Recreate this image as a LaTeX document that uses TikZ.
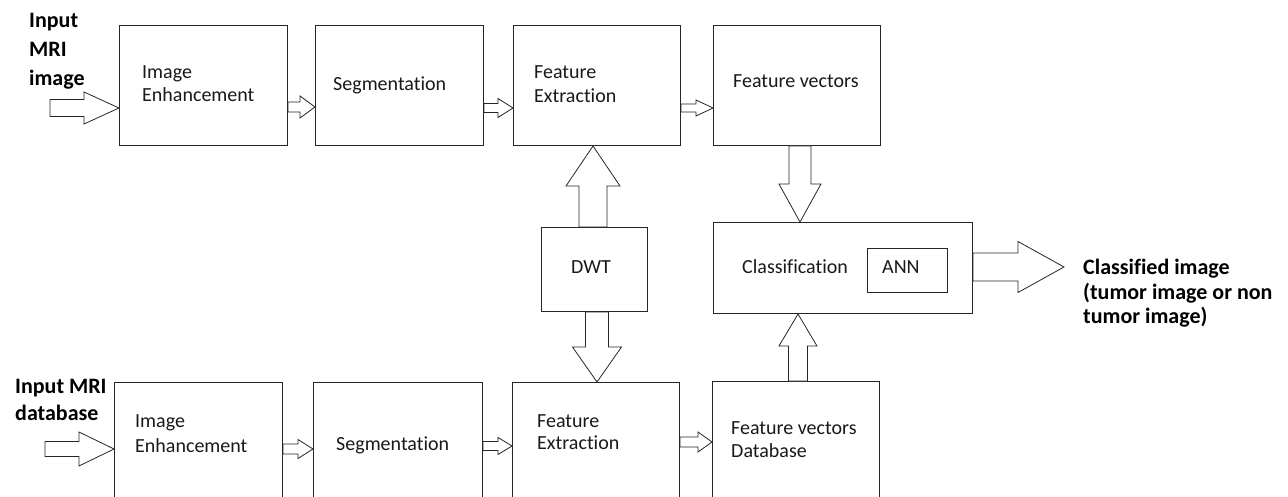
\documentclass[tikz,border=0pt]{standalone}
\usepackage{fontspec}
\setmainfont{Carlito}[Ligatures=NoCommon]
\usetikzlibrary{calc}
\tikzset{
  box/.style={draw=black!85, line width=1pt, anchor=north west, inner sep=0pt, fill=white},
  arrowbox/.style={draw=black!85, line width=0.8pt, fill=white, line join=miter},
  txt/.style={anchor=base west, inner sep=0pt, align=left, font=\fontsize{20}{23}\selectfont, text=black!90},
  lbl/.style={anchor=base west, inner sep=0pt, align=left, text=black},
}
% #1 start, #2 tip (named coordinates), #3 shaft half width, #4 head half width, #5 head length
\newcommand\blockright[5]{%
  \draw[arrowbox] ($(#1|-#2)+(0,-#3)$) -- ($(#2)+(-#5,-#3)$) -- ($(#2)+(-#5,-#4)$) -- (#2)
   -- ($(#2)+(-#5,#4)$) -- ($(#2)+(-#5,#3)$) -- ($(#1|-#2)+(0,#3)$) -- cycle;}
\newcommand\blockdown[5]{%
  \draw[arrowbox] ($(#2|-#1)+(-#3,0)$) -- ($(#2)+(-#3,-#5)$) -- ($(#2)+(-#4,-#5)$) -- (#2)
   -- ($(#2)+(#4,-#5)$) -- ($(#2)+(#3,-#5)$) -- ($(#2|-#1)+(#3,0)$) -- cycle;}
\newcommand\blockup[5]{%
  \draw[arrowbox] ($(#2|-#1)+(-#3,0)$) -- ($(#2)+(-#3,#5)$) -- ($(#2)+(-#4,#5)$) -- (#2)
   -- ($(#2)+(#4,#5)$) -- ($(#2)+(#3,#5)$) -- ($(#2|-#1)+(#3,0)$) -- cycle;}
\begin{document}
\begin{tikzpicture}[x=1pt,y=-1pt]
\useasboundingbox[fill=white] (0,0) rectangle (1288,497);
\clip (0,0) rectangle (1288,497);
% boxes, top row
\node[box, minimum width=168pt, minimum height=120pt] (ie1) at (119,25) {};
\node[box, minimum width=168pt, minimum height=120pt] (seg1) at (315,25) {};
\node[box, minimum width=167pt, minimum height=120pt] (fe1) at (513,25) {};
\node[box, minimum width=167pt, minimum height=120pt] (fv1) at (713,25) {};
% middle
\node[box, minimum width=106pt, minimum height=84pt] (dwt) at (541,227) {};
\node[box, minimum width=259pt, minimum height=91pt] (cls) at (713,222) {};
\node[box, minimum width=80pt, minimum height=44pt] (ann) at (867,248) {};
% bottom row
\node[box, minimum width=168pt, minimum height=140pt] (ie2) at (114,382) {};
\node[box, minimum width=169pt, minimum height=140pt] (seg2) at (313,382) {};
\node[box, minimum width=167pt, minimum height=140pt] (fe2) at (512,382) {};
\node[box, minimum width=167pt, minimum height=140pt] (fv2) at (712,381) {};
% texts in boxes (anchor at the baseline of the last line)
\node[txt] (tie1) at (142,102) {Image\\Enhancement};
\node[txt] (tseg1) at (333,91) {Segmentation};
\node[txt, font=\fontsize{20}{24}\selectfont] (tfe1) at (534,103) {Feature\\Extraction};
\node[txt] (tfv1) at (733,88) {Feature vectors};
\node[txt] (tdwt) at (571,273) {DWT};
\node[txt] (tcls) at (742,273) {Classification};
\node[txt] (tann) at (882,273) {ANN};
\node[txt, font=\fontsize{20}{25}\selectfont] (tie2) at (135,452) {Image\\Enhancement};
\node[txt] (tseg2) at (336,450) {Segmentation};
\node[txt, font=\fontsize{20}{22}\selectfont] (tfe2) at (537,449) {Feature\\Extraction};
\node[txt] (tfv2) at (731,457) {Feature vectors\\Database};
% outside labels
\node[lbl, font=\bfseries\fontsize{22}{29}\selectfont] (lin1) at (29,86) {Input\\MRI\\image};
\node[lbl, font=\bfseries\fontsize{22}{27}\selectfont] (lin2) at (15,420) {Input MRI\\database};
\node[lbl, font=\bfseries\fontsize{22}{24}\selectfont] (lout) at (1083,323) {Classified image\\(tumor image or non\\tumor image)};
% coordinates for block arrows
\coordinate (in1s) at (50,108);
\coordinate (in1t) at (ie1.west |- 0,108);
\coordinate (a1s) at (ie1.east |- 0,107);
\coordinate (a1t) at (seg1.west |- 0,107);
\coordinate (a2s) at (seg1.east |- 0,108);
\coordinate (a2t) at (fe1.west |- 0,108);
\coordinate (a3s) at (fe1.east |- 0,108);
\coordinate (a3t) at (fv1.west |- 0,108);
\coordinate (in2s) at (45,449);
\coordinate (in2t) at (ie2.west |- 0,449);
\coordinate (b1s) at (ie2.east |- 0,449);
\coordinate (b1t) at (seg2.west |- 0,449);
\coordinate (b2s) at (seg2.east |- 0,446);
\coordinate (b2t) at (fe2.west |- 0,446);
\coordinate (b3s) at (fe2.east |- 0,442);
\coordinate (b3t) at (fv2.west |- 0,442);
\coordinate (v1s) at (fv1.south -| 800,0);
\coordinate (v1t) at (cls.north -| 800,0);
\coordinate (v2s) at (dwt.north -| 593,0);
\coordinate (v2t) at (fe1.south -| 593,0);
\coordinate (v3s) at (dwt.south -| 597,0);
\coordinate (v3t) at (fe2.north -| 597,0);
\coordinate (v4s) at (fv2.north -| 798,0);
\coordinate (v4t) at (cls.south -| 798,0);
\coordinate (os) at (cls.east |- 0,267);
\coordinate (ot) at (1064,267);
% top row arrows
\blockright{in1s}{in1t}{8.5}{16}{35}
\blockright{a1s}{a1t}{5}{11}{15}
\blockright{a2s}{a2t}{4.5}{9.5}{15}
\blockright{a3s}{a3t}{4}{8}{17}
% bottom row arrows
\blockright{in2s}{in2t}{7.5}{17}{35}
\blockright{b1s}{b1t}{5}{9.5}{15}
\blockright{b2s}{b2t}{4.5}{8.5}{14}
\blockright{b3s}{b3t}{5}{10}{14}
% vertical arrows
\blockdown{v1s}{v1t}{11}{21}{38}
\blockup{v2s}{v2t}{14}{27}{40}
\blockdown{v3s}{v3t}{11.5}{24.5}{35}
\blockup{v4s}{v4t}{9.5}{19}{32}
% output arrow
\blockright{os}{ot}{14}{25.5}{46}
\end{tikzpicture}
\end{document}
